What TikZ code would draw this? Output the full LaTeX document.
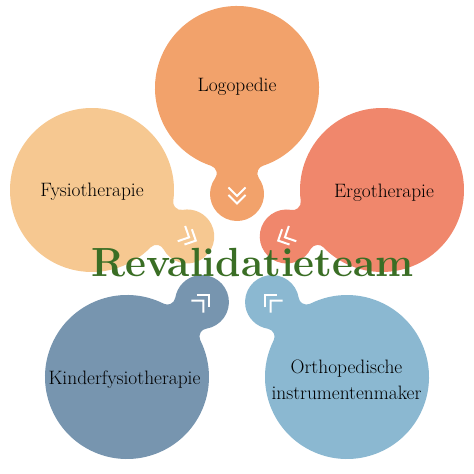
\documentclass[tikz,border=0pt]{standalone}
\definecolor{logo}{HTML}{F2A26B}
\definecolor{fysio}{HTML}{F6C891}
\definecolor{ergo}{HTML}{F0876C}
\definecolor{kinder}{HTML}{7795AF}
\definecolor{ortho}{HTML}{8BB8D1}
\definecolor{teamgreen}{HTML}{3A6E25}
\tikzset{
  label/.style={text=black, font=\fontsize{19.4}{26}\selectfont, align=center},
  chevron/.style={draw=white, line width=2pt}
}
\begin{document}
\begin{tikzpicture}[x=1pt,y=1pt]
  \useasboundingbox (0,0) rectangle (474,474);
  % petals: big circle with a bump pointing to the middle
  \foreach \px/\py/\ang/\col in {237/386/-90/logo, 92/284/-26/fysio, 382/284/206/ergo, 127/97/45/kinder, 347/97/135/ortho}{
    \begin{scope}[shift={(\px,\py)}, rotate=\ang]
      \fill[\col] (18.33:82) arc[start angle=18.33, end angle=341.67, radius=82]
        arc[start angle=161.67, end angle=54, radius=8]
        arc[start angle=234, end angle=486, radius=27]
        arc[start angle=-54, end angle=-161.67, radius=8] -- cycle;
      \draw[chevron] (99.5,8.5) -- (108,0) -- (99.5,-8.5);
      \draw[chevron] (107,8.5) -- (115.5,0) -- (107,-8.5);
    \end{scope}
  }
  \node[label] (logo) at (237,387) {Logopedie};
  \node[label] (fysio) at (92,282) {Fysiotherapie};
  \node[label] (ergo) at (384,281) {Ergotherapie};
  \node[label] (kinder) at (124.5,94) {Kinderfysiotherapie};
  \node[label] (ortho) at (346.5,94) {Orthopedische\\instrumentenmaker};
  \node[anchor=base, text=teamgreen, font=\fontsize{40.7}{42}\selectfont\bfseries] (team) at (252.5,197) {Revalidatieteam};
\end{tikzpicture}
\end{document}
